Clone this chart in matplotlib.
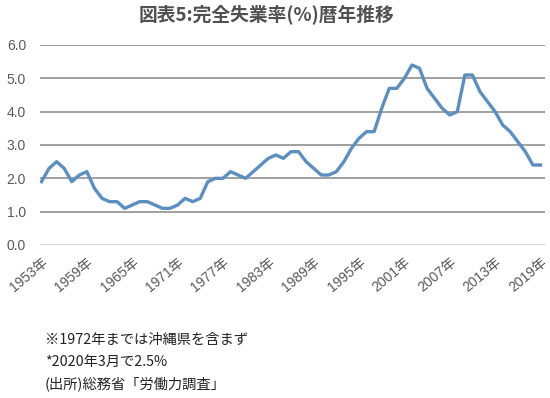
import matplotlib
matplotlib.use("Agg")
import matplotlib.pyplot as plt

plt.rcParams['font.family'] = ['Liberation Sans', 'Noto Sans CJK JP', 'DejaVu Sans']

years = list(range(1953, 2020))
rates = [1.9, 2.3, 2.5, 2.3, 1.9, 2.1, 2.2, 1.7, 1.4, 1.3,
         1.3, 1.1, 1.2, 1.3, 1.3, 1.2, 1.1, 1.1, 1.2, 1.4,
         1.3, 1.4, 1.9, 2.0, 2.0, 2.2, 2.1, 2.0, 2.2, 2.4,
         2.6, 2.7, 2.6, 2.8, 2.8, 2.5, 2.3, 2.1, 2.1, 2.2,
         2.5, 2.9, 3.2, 3.4, 3.4, 4.1, 4.7, 4.7, 5.0, 5.4,
         5.3, 4.7, 4.4, 4.1, 3.9, 4.0, 5.1, 5.1, 4.6, 4.3,
         4.0, 3.6, 3.4, 3.1, 2.8, 2.4, 2.4]
tick_years = list(range(1953, 2020, 6))
tick_labels = [f"{y}年" for y in tick_years]
yticks = [0, 1, 2, 3, 4, 5, 6]
title = "図表5:完全失業率(%)暦年推移"
notes = ["※1972年までは沖縄県を含まず", "*2020年3月で2.5%", "(出所)総務省「労働力調査」"]

W, H = 550, 398
fig = plt.figure(figsize=(W/100, H/100), dpi=100)
ax = fig.add_axes([40/W, 1-245/H, 505/W, 200/H])

ax.plot(years, rates, color='#5b8fc2', lw=2.4, solid_joinstyle='round')
ax.set_xlim(1952.8, 2019.6)
ax.set_ylim(0, 6)
ax.set_yticks(yticks)
ax.set_yticklabels([f"{v:.1f}" for v in yticks], color='#595959', fontsize=10)
for v in yticks[1:]:
    ax.axhline(v, color='#868686', lw=1.1, zorder=0)
ax.axhline(0, color='#d0d0d0', lw=1.1, zorder=0)
for s in ax.spines.values():
    s.set_visible(False)
ax.tick_params(axis='both', length=0)
ax.tick_params(axis='y', pad=10)
ax.set_xticks(tick_years)
ax.set_xticklabels(tick_labels, rotation=40, ha='right', va='top',
                   rotation_mode='anchor', color='#595959', fontsize=10)
ax.tick_params(axis='x', pad=7)

fig.text(266/W, 1-15/H, title, ha='center', va='center', fontsize=13.5,
         color='#505050', fontweight='bold',
         family=['Noto Sans CJK JP', 'DejaVu Sans'])
for i, n in enumerate(notes):
    fig.text(45/W, 1-(340+22*i)/H, n, ha='left', va='center', fontsize=10.3,
             color='#222222', family=['Noto Sans CJK JP', 'DejaVu Sans'])

fig.savefig("out.png", dpi=100)
